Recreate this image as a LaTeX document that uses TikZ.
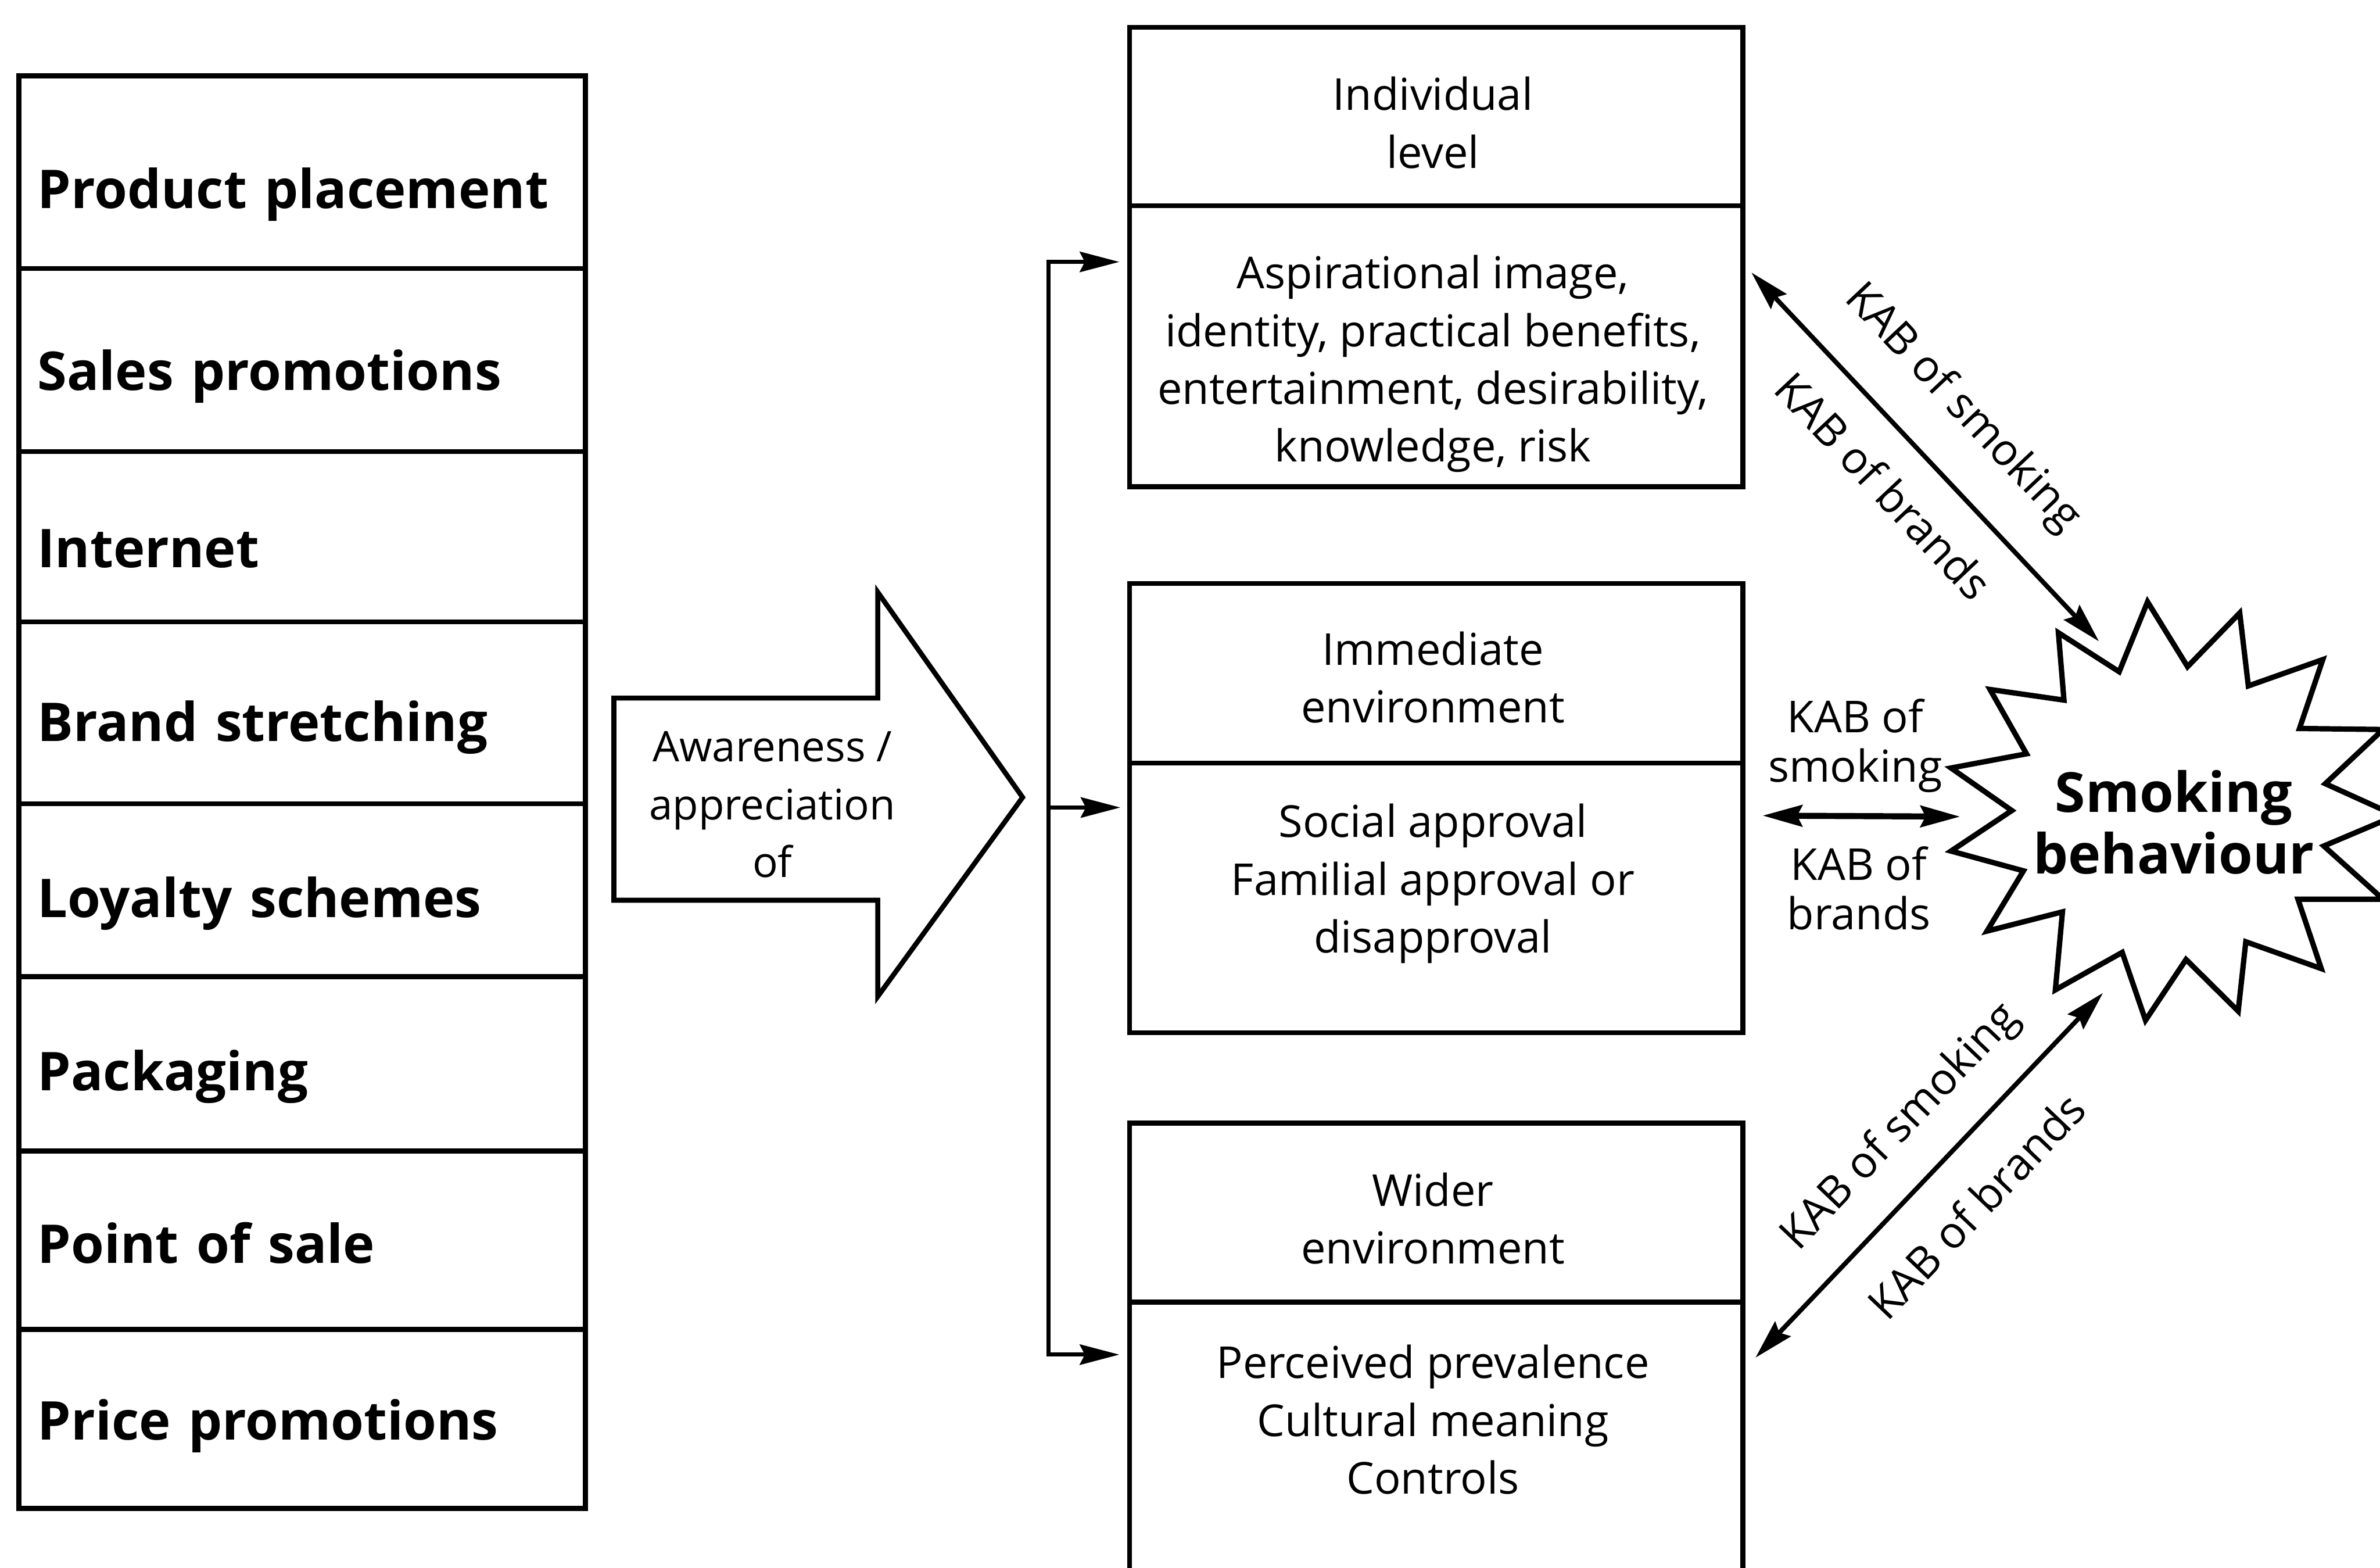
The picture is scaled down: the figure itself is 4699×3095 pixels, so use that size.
\documentclass[tikz,border=0pt]{standalone}
\usepackage{fontspec}
\setmainfont{Open Sans}
\usetikzlibrary{arrows.meta}

% type sizes (1 drawing unit = 0.01 cm)
\newcommand{\regtext}{\fontsize{24.7}{32.4}\selectfont}
\newcommand{\awaretext}{\fontsize{23.7}{32.4}\selectfont}
\newcommand{\kabtext}{\fontsize{24.7}{26.5}\selectfont}
\newcommand{\itemtext}{\fontsize{30}{36}\selectfont\bfseries}
\newcommand{\startext}{\fontsize{31}{33}\selectfont\bfseries}

\tikzset{
  boxed/.style={draw, line width=2.8pt, outer sep=0pt},
  item/.style={boxed, anchor=north west, minimum width=11.18cm,
    text width=10.44cm, inner xsep=0.37cm, inner ysep=0pt, align=left,
    font=\itemtext, text depth=0pt},
  cell/.style={boxed, anchor=north west, minimum width=12.10cm, inner sep=0pt},
  txt/.style={align=center, font=\regtext, inner sep=0pt},
  kab/.style={font=\regtext, inner sep=0pt},
  link/.style={line width=2.3pt},
  head/.style={-{Stealth[length=0.78cm,width=0.4cm,inset=0.1cm]}},
  twoheads/.style={{Stealth[length=0.78cm,width=0.42cm,inset=0.1cm]}-{Stealth[length=0.78cm,width=0.42cm,inset=0.1cm]}},
}

\begin{document}
\begin{tikzpicture}[x=0.01cm, y=-0.01cm]
\useasboundingbox (0,0) rectangle (4699,3095);
\fill[white] (0,0) rectangle (4699,3095);

% marketing channels
\node[item, minimum height=3.80cm, text height=1.415cm] (r1) at (37,150) {Product placement};
\node[item, minimum height=3.61cm, text height=1.195cm] (r2) at (r1.south west) {Sales promotions};
\node[item, minimum height=3.36cm, text height=1.215cm] (r3) at (r2.south west) {Internet};
\node[item, minimum height=3.59cm, text height=1.115cm] (r4) at (r3.south west) {Brand stretching};
\node[item, minimum height=3.41cm, text height=1.075cm] (r5) at (r4.south west) {Loyalty schemes};
\node[item, minimum height=3.44cm, text height=1.055cm] (r6) at (r5.south west) {Packaging};
\node[item, minimum height=3.52cm, text height=0.895cm] (r7) at (r6.south west) {Point of sale};
\node[item, minimum height=3.53cm, text height=0.815cm] (r8) at (r7.south west) {Price promotions};

% block arrow
\draw[line width=2.8pt, line join=miter]
  (1212,1378) -- (1733,1378) -- (1733,1169) -- (2019,1574)
  -- (1733,1967) -- (1733,1777) -- (1212,1777) -- cycle;
\node[txt, font=\awaretext] (aware) at (1525,1595) {\strut Awareness /\\\strut appreciation\\\strut of};

% levels of influence
\node[cell, minimum height=3.52cm] (headA) at (2230,54) {};
\node[cell, minimum height=5.54cm] (bodyA) at (headA.south west) {};
\node[txt] (headAtext) at (2829,252) {\strut Individual\\\strut level};
\node[txt] (bodyAtext) at (2829,718) {\strut Aspirational image,\\\strut identity, practical benefits,\\\strut entertainment, desirability,\\\strut knowledge, risk};

\node[cell, minimum height=3.54cm] (headB) at (2230,1152) {};
\node[cell, minimum height=5.32cm] (bodyB) at (headB.south west) {};
\node[txt] (headBtext) at (2829,1347) {\strut Immediate\\\strut environment};
\node[txt] (bodyBtext) at (2829,1744) {\strut Social approval\\\strut Familial approval or\\\strut disapproval};

\node[cell, minimum height=3.53cm] (headC) at (2230,2217) {};
\node[cell, minimum height=5.45cm] (bodyC) at (headC.south west) {};
\node[txt] (headCtext) at (2829,2415) {\strut Wider\\\strut environment};
\node[txt] (bodyCtext) at (2829,2812) {\strut Perceived prevalence\\\strut Cultural meaning\\\strut Controls};

% distribution to the three levels
\coordinate (jtop) at (2070,517);
\coordinate (jmid) at (2070,1594);
\coordinate (jbot) at (2070,2674);
\draw[link, head, shorten >=0.2cm] (jmid) |- (bodyA.west |- jtop);
\draw[link, head, shorten >=0.2cm] (jmid) |- (bodyC.west |- jbot);
\draw[link, head, shorten >=0.18cm] (jmid) -- (bodyB.west |- jmid);

% smoking behaviour burst
\draw[line width=3pt, line join=miter]
  (4240,1188) -- (4319,1316) -- (4422,1210) -- (4439,1354) -- (4586,1302)
  -- (4540,1438) -- (4705,1440) -- (4591,1547) -- (4730,1610) -- (4588,1670)
  -- (4705,1775) -- (4537,1775) -- (4583,1912) -- (4434,1859) -- (4419,1996)
  -- (4316,1894) -- (4236,2014) -- (4190,1880) -- (4058,1954) -- (4072,1800)
  -- (3923,1838) -- (3995,1719) -- (3852,1680) -- (3972,1600) -- (3852,1516)
  -- (4001,1488) -- (3929,1361) -- (4075,1382) -- (4064,1249) -- (4184,1326)
  -- cycle;
\node[align=center, font=\startext, inner sep=0pt] (smoke) at (4292,1640)
  {\strut Smoking\\\strut behaviour};

% KAB links
\coordinate (ka1) at (3458,538);
\coordinate (ka2) at (4144,1266);
\draw[line width=2.6pt, twoheads] (ka1) -- (ka2)
  node[kab, pos=0.48, sloped, above=0.7cm] (kabAs) {KAB of smoking}
  node[kab, pos=0.485, sloped, below=0.6cm] (kabAb) {KAB of brands};

\coordinate (kb1) at (3480,1610);
\coordinate (kb2) at (3870,1612);
\draw[line width=3.4pt, twoheads] (kb1) -- (kb2);
\node[align=center, font=\kabtext, inner sep=0pt] (kabBs) at (3663,1476) {\strut KAB of\\\strut smoking};
\node[align=center, font=\kabtext, inner sep=0pt] (kabBb) at (3670,1767) {\strut KAB of\\\strut brands};

\coordinate (kc1) at (3466,2680);
\coordinate (kc2) at (4152,1960);
\draw[line width=2.6pt, twoheads] (kc1) -- (kc2)
  node[kab, pos=0.53, sloped, above=0.57cm] (kabCs) {KAB of smoking}
  node[kab, pos=0.52, sloped, below=0.7cm] (kabCb) {KAB of brands};
\end{tikzpicture}
\end{document}
